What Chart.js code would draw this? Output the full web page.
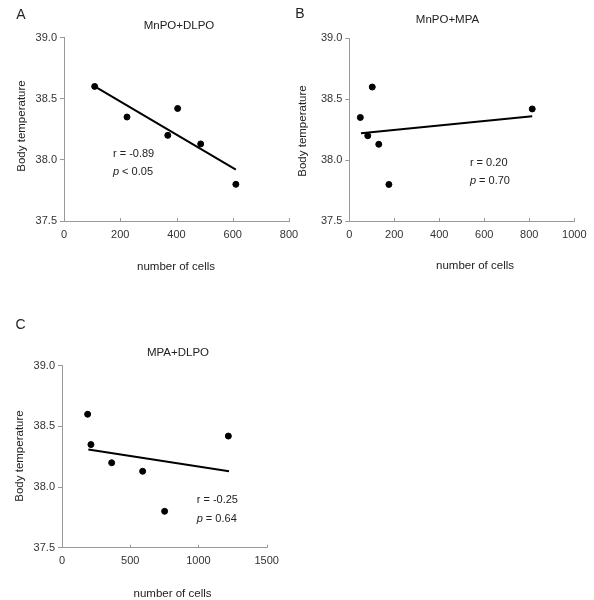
<!DOCTYPE html>
<html>
<head>
<meta charset="utf-8">
<title>Body temperature vs number of cells</title>
<script src="https://cdn.jsdelivr.net/npm/chart.js@4.4.1/dist/chart.umd.min.js"></script>
<style>
  body { margin: 0; background: #fff; }
  #wrap { position: relative; width: 594px; height: 600px; }
  #wrap canvas { position: absolute; left: 0; top: 0; }
</style>
</head>
<body>
<div id="wrap">
  <canvas id="chartA" width="594" height="600"></canvas>
  <canvas id="chartB" width="594" height="600"></canvas>
  <canvas id="chartC" width="594" height="600"></canvas>
</div>
<script>
// body temperature of the six animals (same in every panel)
const temps = [38.60, 38.35, 38.20, 38.42, 38.13, 37.80];
// number of cells per panel, same animal order as temps
const cellsA = [109, 224, 369, 404, 486, 611];
const cellsB = [102, 49, 82, 813, 131, 176];
const cellsC = [188, 212, 364, 1219, 591, 752];
// regression line end points
const fitAx = [109, 611], fitAy = [38.60, 37.92];
const fitBx = [52, 813],  fitBy = [38.22, 38.36];
const fitCx = [193, 1224], fitCy = [38.31, 38.13];
// stats text
const statsA = ['r = -0.89', ' < 0.05'];
const statsB = ['r = 0.20', ' = 0.70'];
const statsC = ['r = -0.25', ' = 0.64'];
const yTicks = [37.5, 38.0, 38.5, 39.0];

const FONT = '"Liberation Sans", Arial, sans-serif';
Chart.defaults.font.family = FONT;
Chart.defaults.color = '#333';

const panelText = {
  id: 'panelText',
  afterDraw(chart, args, o) {
    const ctx = chart.ctx;
    const xs = chart.scales.x, ys = chart.scales.y;
    ctx.save();
    ctx.fillStyle = '#222';
    ctx.textBaseline = 'middle';
    // inward tick marks on x axis
    ctx.strokeStyle = '#999';
    ctx.lineWidth = 1;
    xs.ticks.forEach(t => {
      const px = Math.round(xs.getPixelForValue(t.value)) + 0.5;
      ctx.beginPath();
      ctx.moveTo(px, xs.top);
      ctx.lineTo(px, xs.top - 3);
      ctx.stroke();
    });
    ctx.textAlign = 'center';
    ctx.font = '14px ' + FONT;
    ctx.fillText(o.letter, o.letterX, o.letterY);
    ctx.font = '11.5px ' + FONT;
    ctx.fillText(o.title, o.titleX, o.titleY);
    ctx.fillText('number of cells', o.xTitleX, o.xTitleY);
    ctx.save();
    ctx.translate(o.yTitleX, o.yTitleY);
    ctx.rotate(-Math.PI / 2);
    ctx.fillText('Body temperature', 0, 0);
    ctx.restore();
    // r and p annotations placed in data units
    ctx.textAlign = 'left';
    const sx = xs.getPixelForValue(o.statX);
    ctx.font = '11px ' + FONT;
    ctx.fillText(o.stats[0], sx, ys.getPixelForValue(o.statY1));
    const py = ys.getPixelForValue(o.statY2);
    ctx.font = 'italic 11px ' + FONT;
    ctx.fillText('p', sx, py);
    const w = ctx.measureText('p').width;
    ctx.font = '11px ' + FONT;
    ctx.fillText(o.stats[1], sx + w, py);
    ctx.restore();
  }
};

function makePanel(id, cells, fitX, fitY, xMax, xStep, pad, text) {
  new Chart(document.getElementById(id), {
    type: 'scatter',
    data: {
      datasets: [
        {
          data: cells.map((c, i) => ({ x: c, y: temps[i] })),
          backgroundColor: '#000',
          borderColor: '#000',
          pointRadius: 3
        },
        {
          type: 'line',
          data: fitX.map((c, i) => ({ x: c, y: fitY[i] })),
          borderColor: '#000',
          borderWidth: 2,
          pointRadius: 0,
          fill: false
        }
      ]
    },
    options: {
      responsive: false,
      animation: false,
      layout: { padding: pad },
      plugins: { legend: { display: false }, tooltip: { enabled: false }, panelText: text },
      scales: {
        x: {
          type: 'linear',
          min: 0, max: xMax,
          ticks: { stepSize: xStep, padding: 7, font: { size: 11 }, color: '#333', callback: v => String(v) },
          grid: { display: false, drawTicks: false },
          border: { color: '#999', width: 1 },
          afterFit: s => { s.height = 25; }
        },
        y: {
          min: 37.5, max: 39.0,
          afterBuildTicks: s => { s.ticks = yTicks.map(v => ({ value: v })); },
          ticks: { padding: 3, font: { size: 11 }, color: '#333', callback: v => Number(v).toFixed(1) },
          grid: { drawOnChartArea: false, tickLength: 4, color: '#999' },
          border: { color: '#999', width: 1 },
          afterFit: s => { s.width = 40; }
        }
      }
    },
    plugins: [panelText]
  });
}

makePanel('chartA', cellsA, fitAx, fitAy, 800, 200,
  { left: 24, right: 305, top: 37.5, bottom: 354 },
  { letter: 'A', letterX: 21, letterY: 15, title: 'MnPO+DLPO', titleX: 179, titleY: 26,
    xTitleX: 176, xTitleY: 266.5, yTitleX: 21.5, yTitleY: 126,
    stats: statsA, statX: 174, statY1: 38.05, statY2: 37.9 });

makePanel('chartB', cellsB, fitBx, fitBy, 1000, 200,
  { left: 309.3, right: 19.7, top: 38.3, bottom: 354 },
  { letter: 'B', letterX: 300, letterY: 14.5, title: 'MnPO+MPA', titleX: 447.5, titleY: 19.5,
    xTitleX: 475, xTitleY: 265.5, yTitleX: 303, yTitleY: 131,
    stats: statsB, statX: 536, statY1: 37.98, statY2: 37.83 });

makePanel('chartC', cellsC, fitCx, fitCy, 1500, 500,
  { left: 22, right: 327.3, top: 365.7, bottom: 27.3 },
  { letter: 'C', letterX: 20.5, letterY: 325, title: 'MPA+DLPO', titleX: 178, titleY: 352.5,
    xTitleX: 172.5, xTitleY: 593.5, yTitleX: 20, yTitleY: 456,
    stats: statsC, statX: 987, statY1: 37.89, statY2: 37.74 });
</script>
</body>
</html>
